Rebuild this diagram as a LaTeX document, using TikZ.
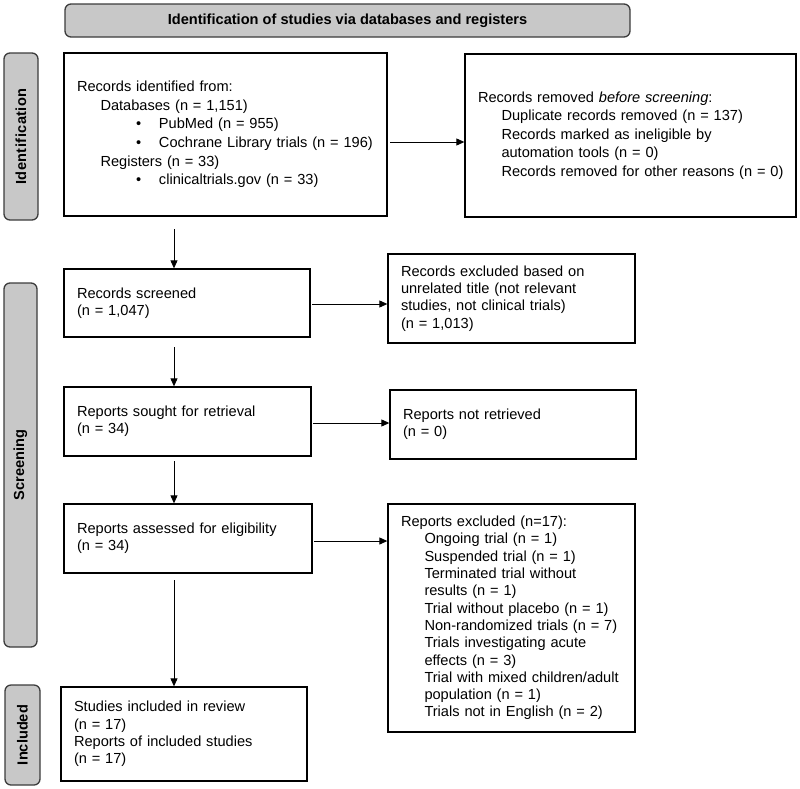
\documentclass[tikz,border=0pt]{standalone}
\usepackage{fontspec}
\setmainfont{Liberation Sans}
\usetikzlibrary{arrows.meta}
\definecolor{bargray}{RGB}{200,200,200}
\definecolor{bardraw}{RGB}{60,60,60}
\newcommand\Ln[1]{\mbox{#1}}
\newcommand\Ind{\hspace*{23.5pt}}
\newcommand\Bul{\hspace*{59pt}\makebox[23pt][l]{\textbullet}}
\begin{document}
\begin{tikzpicture}[x=1pt,y=-1pt,
  box/.style={draw=black, line width=1.3pt, rectangle, inner xsep=13pt, inner ysep=0pt,
    align=left, font=\fontsize{14.6}{17.3}\selectfont},
  widebox/.style={box, font=\fontsize{14.6}{18.6}\selectfont},
  bar/.style={draw=bardraw, fill=bargray, line width=1.3pt, rounded corners=6pt,
    inner sep=0pt, font=\bfseries\fontsize{14.6}{17}\selectfont},
  barlbl/.style={rotate=90, font=\bfseries\fontsize{14.6}{17}\selectfont},
  arr/.style={line width=0.9pt, -{Triangle[length=8pt,width=7pt]}}]
\useasboundingbox (0,0) rectangle (800,788);

% header and side bars
\node[bar, minimum width=565pt, minimum height=33pt] (header) at (347.5,20.5)
  {Identification of studies via databases and registers};
\node[bar, minimum width=34pt, minimum height=167pt] (identbar) at (21,136.5) {};
\node[barlbl] (identlbl) at (identbar.center) {\addfontfeature{LetterSpace=3}Identification};
\node[bar, minimum width=33pt, minimum height=364pt] (screenbar) at (20.5,465) {};
\node[barlbl] (screenlbl) at (screenbar.center) {Screening};
\node[bar, minimum width=35pt, minimum height=100pt] (inclbar) at (22.5,735) {};
\node[barlbl] (incllbl) at (inclbar.center) {Included};

% boxes
\node[widebox, minimum width=323pt, minimum height=163pt, text width=297pt] (ident) at (225.5,134.5)
  {\Ln{Records identified from:}\\
   \Ln{\Ind Databases (n = 1,151)}\\
   \Ln{\Bul PubMed (n = 955)}\\
   \Ln{\Bul Cochrane Library trials (n = 196)}\\
   \Ln{\Ind Registers (n = 33)}\\
   \Ln{\Bul clinicaltrials.gov (n = 33)}};
\node[widebox, minimum width=331pt, minimum height=163pt, text width=305pt] (removed) at (630.5,135.5)
  {\Ln{Records removed \textit{before screening}:}\\
   \Ln{\Ind Duplicate records removed (n = 137)}\\
   \Ln{\Ind Records marked as ineligible by}\\
   \Ln{\Ind automation tools (n = 0)}\\
   \Ln{\Ind Records removed for other reasons (n = 0)}};
\node[box, minimum width=246pt, minimum height=68pt, text width=220pt] (screened) at (187,303)
  {\Ln{Records screened}\\ \Ln{(n = 1,047)}};
\node[box, minimum width=247pt, minimum height=89pt, text width=221pt] (excl1) at (511.5,298.5)
  {\Ln{Records excluded based on}\\ \Ln{unrelated title (not relevant}\\
   \Ln{studies, not clinical trials)}\\ \Ln{(n = 1,013)}};
\node[box, minimum width=247pt, minimum height=69pt, text width=221pt] (sought) at (187.5,421.5)
  {\Ln{Reports sought for retrieval}\\ \Ln{(n = 34)}};
\node[box, minimum width=246pt, minimum height=69pt, text width=220pt] (notret) at (513,424.5)
  {\Ln{Reports not retrieved}\\ \Ln{(n = 0)}};
\node[box, minimum width=248pt, minimum height=69pt, text width=222pt] (assessed) at (188,538.5)
  {\Ln{Reports assessed for eligibility}\\ \Ln{(n = 34)}};
\node[box, minimum width=247pt, minimum height=228pt, text width=221pt] (excl2) at (511.5,618)
  {\Ln{Reports excluded (n=17):}\\
   \Ln{\Ind Ongoing trial (n = 1)}\\
   \Ln{\Ind Suspended trial (n = 1)}\\
   \Ln{\Ind Terminated trial without}\\
   \Ln{\Ind results (n = 1)}\\
   \Ln{\Ind Trial without placebo (n = 1)}\\
   \Ln{\Ind Non-randomized trials (n = 7)}\\
   \Ln{\Ind Trials investigating acute}\\
   \Ln{\Ind effects (n = 3)}\\
   \Ln{\Ind Trial with mixed children/adult}\\
   \Ln{\Ind population (n = 1)}\\
   \Ln{\Ind Trials not in English (n = 2)}};
\node[box, minimum width=246pt, minimum height=94pt, text width=220pt] (included) at (184,734)
  {\Ln{Studies included in review}\\ \Ln{(n = 17)}\\
   \Ln{Reports of included studies}\\ \Ln{(n = 17)}};

% arrow start points
\coordinate (h1) at (390,142);
\coordinate (v1) at (174,229);
\coordinate (h2) at (312,304);
\coordinate (v2) at (174,347);
\coordinate (h3) at (313,423);
\coordinate (v3) at (174,461);
\coordinate (h4) at (314,541);
\coordinate (v4) at (174,580);

\draw[arr] (h1) -- (h1 -| removed.west);
\draw[arr] (v1) -- (v1 |- screened.north);
\draw[arr] (h2) -- (h2 -| excl1.west);
\draw[arr] (v2) -- (v2 |- sought.north);
\draw[arr] (h3) -- (h3 -| notret.west);
\draw[arr] (v3) -- (v3 |- assessed.north);
\draw[arr] (h4) -- (h4 -| excl2.west);
\draw[arr] (v4) -- (v4 |- included.north);
\end{tikzpicture}
\end{document}
